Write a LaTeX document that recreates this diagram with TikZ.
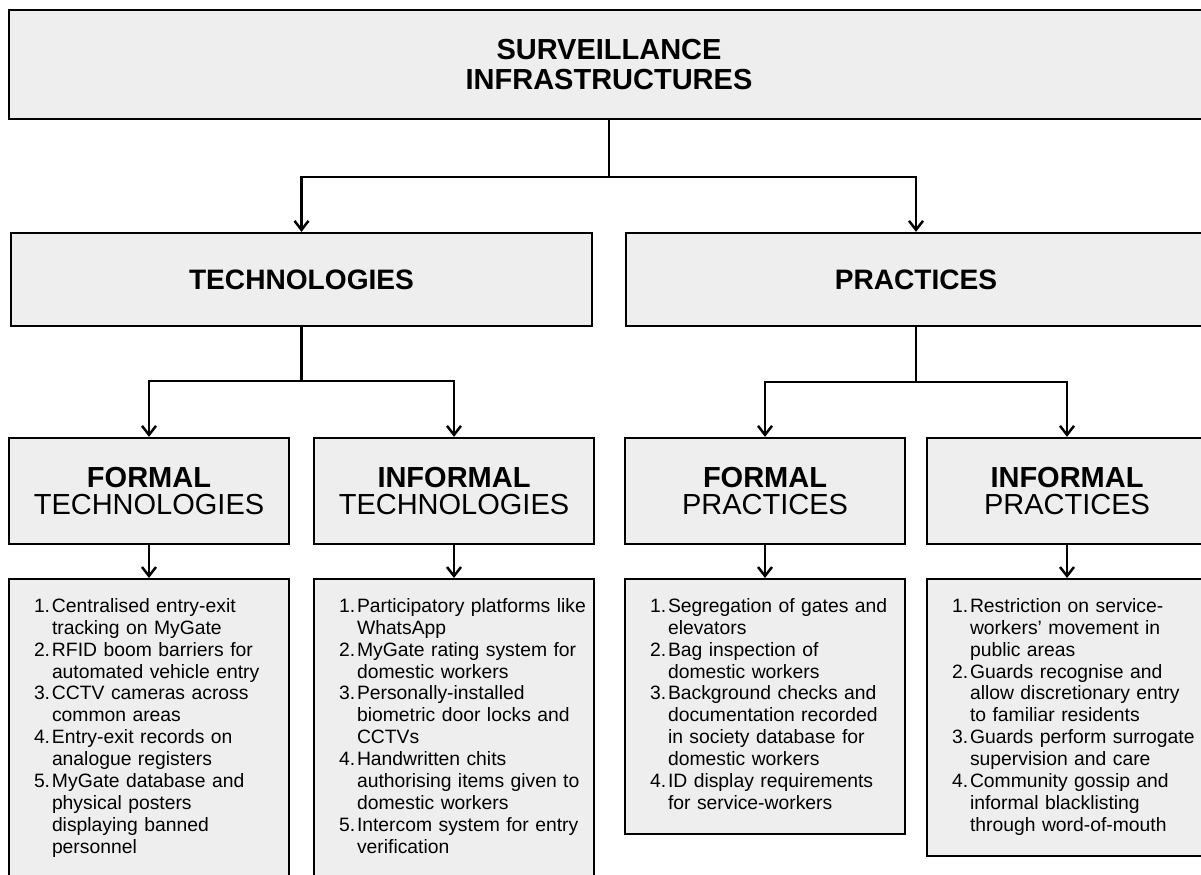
\documentclass[tikz,border=0pt]{standalone}
\usepackage{fontspec}
\setmainfont{Liberation Sans}
\usetikzlibrary{arrows.meta}

\definecolor{boxfill}{RGB}{238,238,238}
\tikzset{
	boxbase/.style={shape=rectangle,draw,fill=boxfill,line width=1.3pt},
	levelbox/.style={boxbase,minimum height=1.86cm,font=\bfseries\fontsize{16}{19}\selectfont},
	headbox/.style={boxbase,minimum width=5.6cm,minimum height=2.12cm,align=center,font=\fontsize{16.5}{15.5}\selectfont},
	listbox/.style={boxbase,anchor=north,text width=4.6cm,inner xsep=0.5cm,inner ysep=10pt,align=left,font=\fontsize{11}{12.5}\selectfont},
	conn/.style={line width=1.4pt},
	connarrow/.style={conn,-{Straight Barb[length=1.8mm,width=2.8mm]}}
}
% numbered lines, hanging under the number
\newcommand{\steps}[1]{\begin{tabular}{@{}p{0.36cm}@{}l@{}}#1\end{tabular}}

\begin{document}
\begin{tikzpicture}
	\useasboundingbox (0,0) rectangle (24.02,-17.48);
	\clip (0,0) rectangle (24.02,-17.48);

	\draw (12.18,-1.29) node (surv) [boxbase,minimum width=24cm,minimum height=2.18cm,align=center,font=\bfseries\fontsize{16.5}{17}\selectfont] {SURVEILLANCE\\INFRASTRUCTURES};
	\draw (6.03,-5.59) node (tech) [levelbox,minimum width=11.62cm] {TECHNOLOGIES};
	\draw (18.32,-5.59) node (prac) [levelbox,minimum width=11.6cm] {PRACTICES};

	\draw (2.98,-9.82) node (ftech) [headbox] {\textbf{FORMAL}\\TECHNOLOGIES};
	\draw (9.08,-9.82) node (itech) [headbox] {\textbf{INFORMAL}\\TECHNOLOGIES};
	\draw (15.30,-9.82) node (fprac) [headbox] {\textbf{FORMAL}\\PRACTICES};
	\draw (21.34,-9.82) node (iprac) [headbox] {\textbf{INFORMAL}\\PRACTICES};

	\draw (2.98,-11.56) node (list-ftech) [listbox] {\steps{
		1. & Centralised entry-exit\\
		   & tracking on MyGate\\
		2. & RFID boom barriers for\\
		   & automated vehicle entry\\
		3. & CCTV cameras across\\
		   & common areas\\
		4. & Entry-exit records on\\
		   & analogue registers\\
		5. & MyGate database and\\
		   & physical posters\\
		   & displaying banned\\
		   & personnel}};
	\draw (9.08,-11.56) node (list-itech) [listbox] {\steps{
		1. & Participatory platforms like\\
		   & WhatsApp\\
		2. & MyGate rating system for\\
		   & domestic workers\\
		3. & Personally-installed\\
		   & biometric door locks and\\
		   & CCTVs\\
		4. & Handwritten chits\\
		   & authorising items given to\\
		   & domestic workers\\
		5. & Intercom system for entry\\
		   & verification}};
	\draw (15.30,-11.56) node (list-fprac) [listbox] {\steps{
		1. & Segregation of gates and\\
		   & elevators\\
		2. & Bag inspection of\\
		   & domestic workers\\
		3. & Background checks and\\
		   & documentation recorded\\
		   & in society database for\\
		   & domestic workers\\
		4. & ID display requirements\\
		   & for service-workers}};
	\draw (21.34,-11.56) node (list-iprac) [listbox] {\steps{
		1. & Restriction on service-\\
		   & workers’ movement in\\
		   & public areas\\
		2. & Guards recognise and\\
		   & allow discretionary entry\\
		   & to familiar residents\\
		3. & Guards perform surrogate\\
		   & supervision and care\\
		4. & Community gossip and\\
		   & informal blacklisting\\
		   & through word-of-mouth}};

	% branching connectors
	\coordinate (split) at (12.18,-3.54);
	\coordinate (techsplit) at (6.03,-7.62);
	\coordinate (pracsplit) at (18.32,-7.64);
	\draw [conn] (surv) -- (split);
	\draw [conn] (tech) -- (techsplit);
	\draw [conn] (prac) -- (pracsplit);
	\foreach \i in {tech,prac}
		\draw [connarrow] (split) -| (\i);
	\foreach \i in {ftech,itech}
		\draw [connarrow] (techsplit) -| (\i);
	\foreach \i in {fprac,iprac}
		\draw [connarrow] (pracsplit) -| (\i);
	\foreach \i in {ftech,itech,fprac,iprac}
		\draw [connarrow] (\i) -- (list-\i);
\end{tikzpicture}
\end{document}
